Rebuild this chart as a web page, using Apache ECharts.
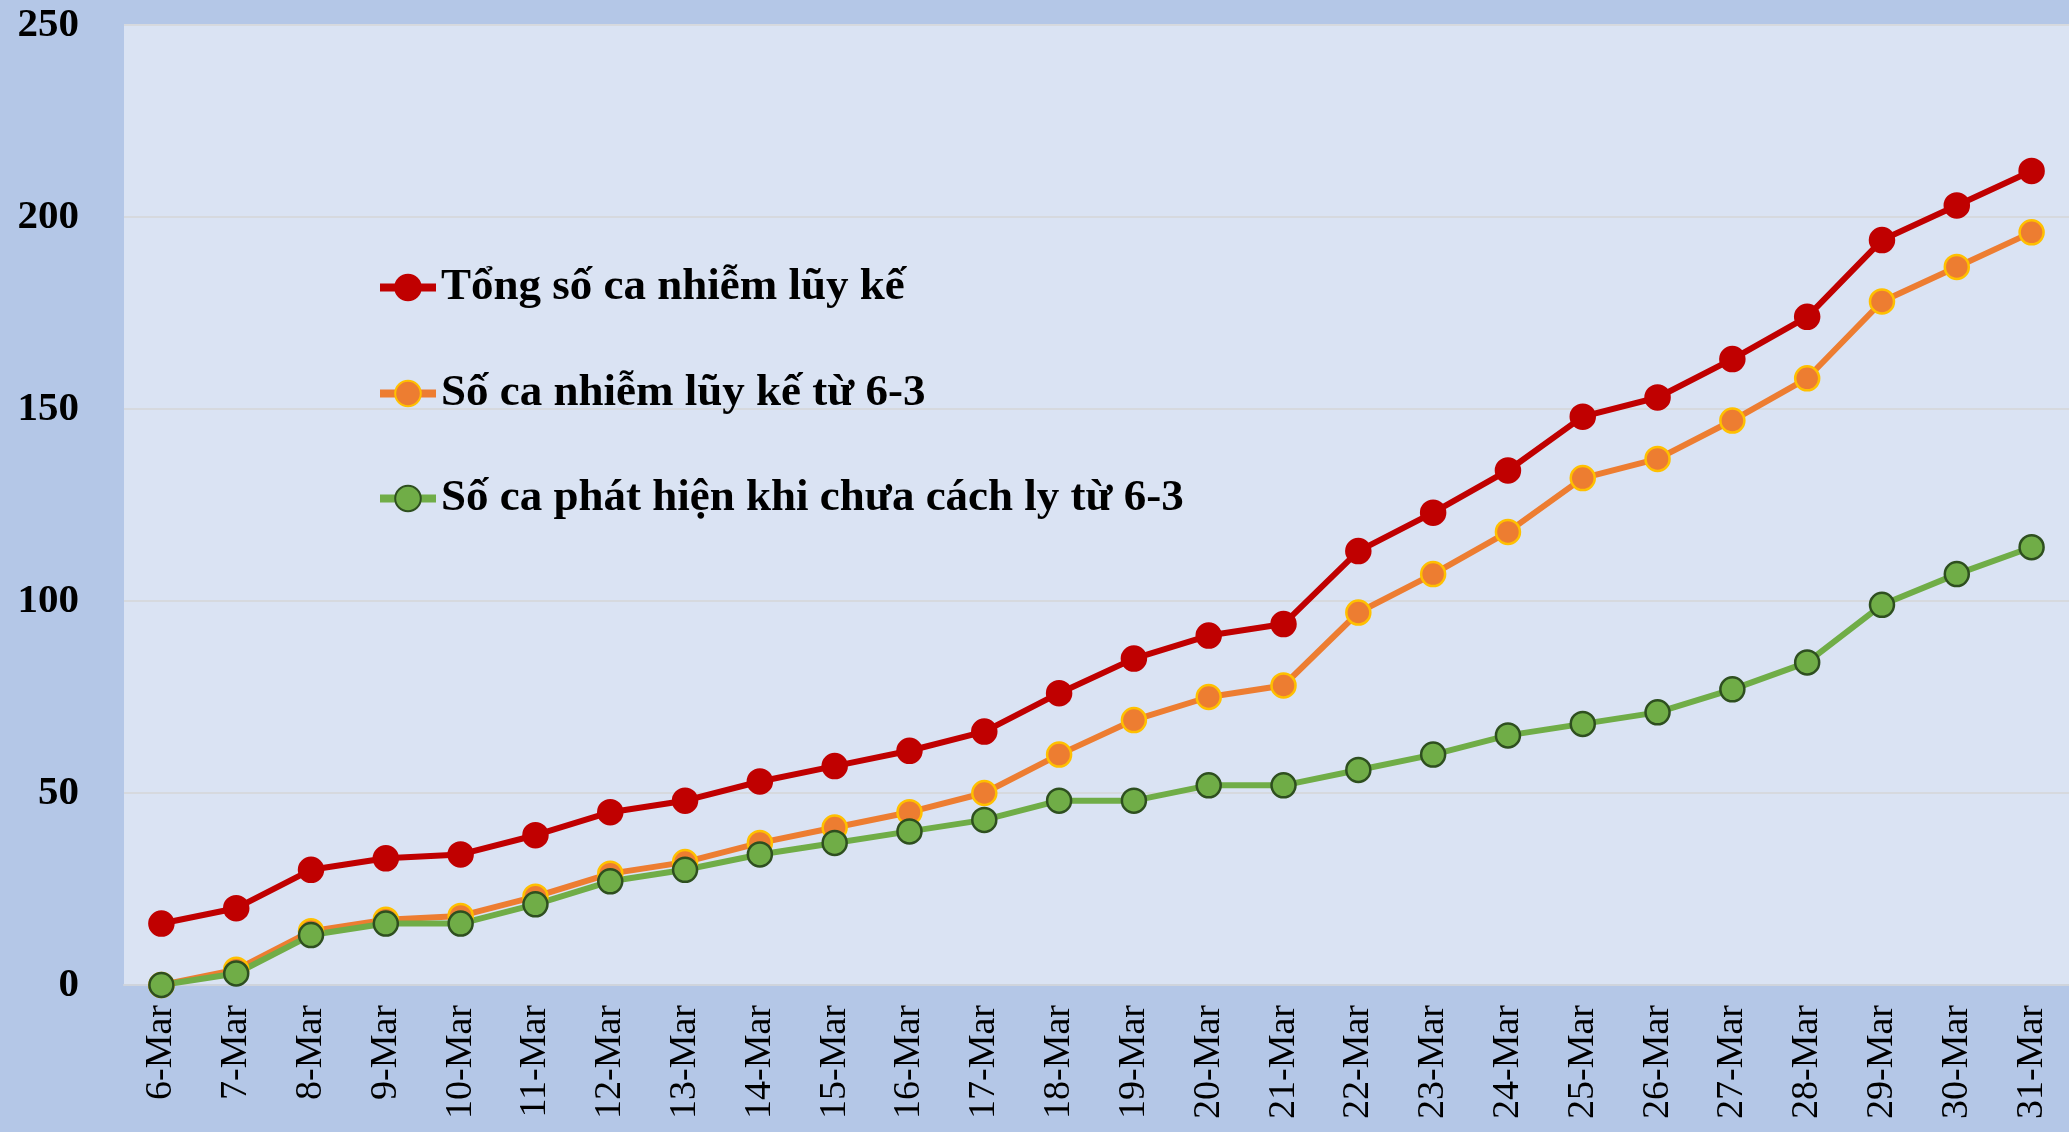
<!DOCTYPE html>
<html>
<head>
<meta charset="utf-8">
<script src="https://cdn.jsdelivr.net/npm/echarts@6/dist/echarts.min.js"></script>
<style>
  html, body { margin: 0; padding: 0; background: #b4c7e7; }
  #main { width: 2069px; height: 1132px; }
</style>
</head>
<body>
<div id="main"></div>
<script>
// dates on the x axis
var days = ['6-Mar', '7-Mar', '8-Mar', '9-Mar', '10-Mar', '11-Mar', '12-Mar', '13-Mar', '14-Mar',
    '15-Mar', '16-Mar', '17-Mar', '18-Mar', '19-Mar', '20-Mar', '21-Mar', '22-Mar', '23-Mar',
    '24-Mar', '25-Mar', '26-Mar', '27-Mar', '28-Mar', '29-Mar', '30-Mar', '31-Mar'];

var seriesNames = ['Tổng số ca nhiễm lũy kế', 'Số ca nhiễm lũy kế từ 6-3', 'Số ca phát hiện khi chưa cách ly từ 6-3'];

var totalCases = [16, 20, 30, 33, 34, 39, 45, 48, 53, 57, 61, 66, 76, 85, 91, 94, 113, 123, 134, 148, 153, 163, 174, 194, 203, 212];
var sinceMar6 = [0, 4, 14, 17, 18, 23, 29, 32, 37, 41, 45, 50, 60, 69, 75, 78, 97, 107, 118, 132, 137, 147, 158, 178, 187, 196];
var notIsolated = [0, 3, 13, 16, 16, 21, 27, 30, 34, 37, 40, 43, 48, 48, 52, 52, 56, 60, 65, 68, 71, 77, 84, 99, 107, 114];

var serif = '"Liberation Serif", "Times New Roman", serif';

function legendAt(name, top) {
    return {
        data: [name],
        left: 371,
        top: top,
        itemWidth: 56,
        itemHeight: 32,
        lineStyle: { width: 8 },
        textStyle: { fontFamily: serif, fontWeight: 'bold', fontSize: 45, color: '#000' }
    };
}

function lineSeries(name, data, color, border) {
    return {
        name: name,
        type: 'line',
        data: data,
        symbol: 'circle',
        symbolSize: 24,
        lineStyle: { color: color, width: 6 },
        itemStyle: { color: color, borderColor: border, borderWidth: 2.5 }
    };
}

var myChart = echarts.init(document.getElementById('main'));

var option = {
    backgroundColor: '#b4c7e7',
    animation: false,
    legend: [
        legendAt(seriesNames[0], 260),
        legendAt(seriesNames[1], 366),
        legendAt(seriesNames[2], 471)
    ],
    grid: {
        left: 124,
        right: 0,
        top: 25,
        bottom: 147,
        show: true,
        backgroundColor: '#dae3f3',
        borderWidth: 0
    },
    xAxis: {
        type: 'category',
        data: days,
        boundaryGap: true,
        axisLine: { lineStyle: { color: '#cfd4dc', width: 2 } },
        axisTick: { show: false },
        axisLabel: {
            interval: 0,
            rotate: 90,
            margin: 20,
            fontFamily: serif,
            fontSize: 38,
            color: '#000'
        }
    },
    yAxis: {
        type: 'value',
        min: 0,
        max: 250,
        interval: 50,
        axisLine: { show: false },
        axisTick: { show: false },
        splitLine: { lineStyle: { color: '#d6d9de', width: 2 } },
        axisLabel: {
            margin: 45,
            fontFamily: serif,
            fontWeight: 'bold',
            fontSize: 41,
            color: '#000'
        }
    },
    series: [
        lineSeries(seriesNames[0], totalCases, '#c00000', '#c00000'),
        lineSeries(seriesNames[1], sinceMar6, '#ed7d31', '#ffc000'),
        lineSeries(seriesNames[2], notIsolated, '#70ad47', '#2e4f1f')
    ]
};

myChart.setOption(option);
</script>
</body>
</html>
